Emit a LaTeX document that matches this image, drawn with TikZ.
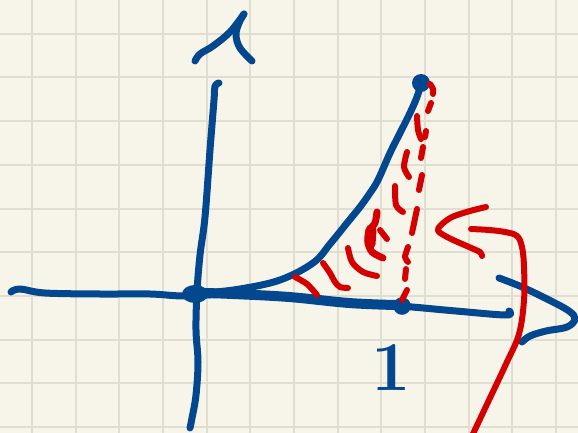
\documentclass[tikz,border=0pt]{standalone}
\usepackage{tikz}
\definecolor{paper}{RGB}{247,245,233}
\definecolor{gridc}{RGB}{224,222,208}
\definecolor{pblue}{RGB}{3,71,143}
\definecolor{pred}{RGB}{212,0,0}
\tikzset{
  gridline/.style={draw=gridc, line width=2},
  bstroke/.style={draw=pblue, line width=7, line cap=round, line join=round},
  rstroke/.style={draw=pred, line width=6, line cap=round, line join=round},
}
\begin{document}
\begin{tikzpicture}[x=1pt,y=-1pt]
\fill[paper] (0,0) rectangle (578,433);
\useasboundingbox (0,0) rectangle (578,433);
\foreach \i in {0,...,12} \draw[gridline] ({32+43.65*\i},0) -- ({32+43.65*\i},433);
\foreach \j in {0,...,9} \draw[gridline] (0,{33.7+43.7*\j}) -- (578,{33.7+43.7*\j});

% y-axis
\draw[bstroke] plot[smooth, tension=0.6] coordinates {(219,83) (215,86) (214,100) (210,150) (205,217) (200,255) (197,292) (196,330) (198,362) (196,395) (192,418) (190,428)};
% y arrowhead
\draw[bstroke] plot[smooth, tension=0.6] coordinates {(195,61) (200,54) (213,46) (230,32) (244,14)};
\draw[bstroke] plot[smooth, tension=0.6] coordinates {(244,14) (239,23) (236,35) (240,48) (252,61)};
% x-axis
\draw[bstroke] plot[smooth, tension=0.6] coordinates {(11,292) (20,289) (45,293) (100,294) (150,294) (185,296) (233,294) (289,297) (349,303) (400,306) (456,311) (506,315) (509,311)};
\draw[bstroke, line width=10] plot[smooth, tension=0.6] coordinates {(205,293) (233,294) (289,297) (349,303) (395,305)};
% x arrowhead
\draw[bstroke] plot[smooth, tension=0.6] coordinates {(499,278) (522,287) (549,300) (569,311) (575,319) (567,327) (546,331) (530,336) (522,342)};
% curve
\draw[bstroke] plot[smooth, tension=0.6] coordinates {(205,293) (240,289) (280,280) (313,263) (330,244) (347,223) (360,207) (370,193) (378,180) (390,153) (400,133) (410,113) (417,97) (421,84)};
% dots
\fill[pblue] (195,294) ellipse [x radius=13, y radius=9];
\fill[pblue] (421,83) circle [radius=9];
\draw[pblue, line width=5.5] (402,306) circle [radius=6];
% label 1
\node[text=pblue, inner sep=0, anchor=south, font=\fontsize{70}{70}\selectfont\bfseries] (one) at (391,391) {1};

% red dashed vertical
\draw[rstroke] plot[smooth] coordinates {(430,84) (433,89) (433,94)};
\draw[rstroke] (431,103) -- (428,111);
\draw[rstroke] (426,131) -- (425,137);
\draw[rstroke] (423,147) -- (421,158);
\draw[rstroke] (422,175) -- (419,190);
\draw[rstroke] (417,209) -- (412,233);
\draw[rstroke] plot[smooth] coordinates {(408,247) (405,257) (408,262)};
\draw[rstroke] (406,269) -- (405,279);
\draw[rstroke] (407,290) -- (402,300);
% red hatching
\draw[rstroke] plot[smooth] coordinates {(417,116) (418,130) (421,139)};
\draw[rstroke] plot[smooth] coordinates {(407,152) (404,167) (409,177)};
\draw[rstroke] plot[smooth] coordinates {(395,186) (396,205) (403,212)};
\draw[rstroke, line width=7] plot[smooth] coordinates {(377,212) (375,223) (369,231) (368,242) (372,252) (383,258)};
\draw[rstroke, line width=11] (371,230) -- (370,244);
\draw[rstroke] (380,230) -- (387,239);
\draw[rstroke] plot[smooth] coordinates {(348,248) (352,262) (363,272) (377,276)};
\draw[rstroke] plot[smooth] coordinates {(323,263) (330,273) (335,282) (340,287) (348,288)};
\draw[rstroke] plot[smooth] coordinates {(295,277) (307,284) (317,295)};
% red arrow
\draw[rstroke] plot[smooth, tension=0.6] coordinates {(472,436) (489,400) (506,364) (519,334) (524,300) (524,267) (522,247) (517,236) (505,232) (489,230) (471,229)};
\draw[rstroke] plot[smooth, tension=0.5] coordinates {(486,207) (470,211) (452,217) (441,225) (438,231) (449,238) (469,247) (480,252) (482,256)};
\end{tikzpicture}
\end{document}
